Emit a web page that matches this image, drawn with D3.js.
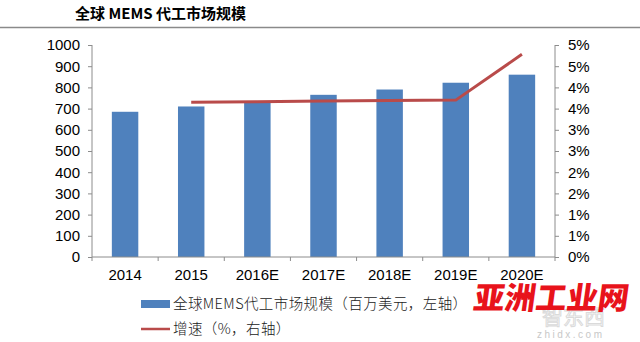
<!DOCTYPE html>
<html>
<head>
<meta charset="utf-8">
<script src="https://cdn.jsdelivr.net/npm/d3@7"></script>
<style>
  html, body { margin: 0; padding: 0; background: #fff; }
  svg { display: block; }
</style>
</head>
<body>
<svg id="chart" width="640" height="342"></svg>
<script>
const categories = ["2014", "2015", "2016E", "2017E", "2018E", "2019E", "2020E"];
const marketSize = [685, 710, 732, 765, 790, 822, 860];
const growthCats = ["2015", "2016E", "2017E", "2018E", "2019E", "2020E"];
const growthRate = [3.65, 3.66, 3.68, 3.69, 3.70, 4.78];
const leftTicks = [0, 100, 200, 300, 400, 500, 600, 700, 800, 900, 1000];
const leftTickLabels = ["0", "100", "200", "300", "400", "500", "600", "700", "800", "900", "1000"];
const rightTicks = [0, 0.5, 1, 1.5, 2, 2.5, 3, 3.5, 4, 4.5, 5];
const rightTickLabels = ["0%", "1%", "1%", "2%", "2%", "3%", "3%", "4%", "4%", "5%", "5%"];
const titleText = "全球 MEMS 代工市场规模";
const legendBar = "全球MEMS代工市场规模（百万美元，左轴）";
const legendLine = "增速（%，右轴）";

const svg = d3.select("#chart");
const L = 92, R = 555, T = 45, B = 257;
const axisColor = "#8c8c8c";
const numFont = "'Liberation Sans', Arial, sans-serif";
const cjkFont = "'Noto Sans CJK SC', 'Noto Sans', sans-serif";

// title
svg.append("text").attr("x", 75).attr("y", 19)
  .attr("font-family", cjkFont).attr("font-weight", "bold")
  .attr("font-size", 15).attr("fill", "#000").text(titleText);
svg.append("line").attr("x1", 0).attr("x2", 640).attr("y1", 27.5).attr("y2", 27.5)
  .attr("stroke", "#8a8a8a").attr("stroke-width", 1.6);

const x = d3.scaleBand().domain(categories).range([L, R]).paddingInner(0.6).paddingOuter(0.3);
const yL = d3.scaleLinear().domain([0, 1000]).range([B, T]);
const yR = d3.scaleLinear().domain([0, 5]).range([B, T]);

// bars
svg.append("g").selectAll("rect").data(categories).join("rect")
  .attr("x", d => x(d))
  .attr("width", x.bandwidth())
  .attr("y", (d, i) => yL(marketSize[i]))
  .attr("height", (d, i) => B - yL(marketSize[i]))
  .attr("fill", "#4f81bd");

// left axis
const gL = svg.append("g").attr("transform", `translate(${L},0)`)
  .call(d3.axisLeft(yL).tickValues(leftTicks).tickSize(4).tickPadding(8)
    .tickFormat((d, i) => leftTickLabels[i]));
// right axis
const gR = svg.append("g").attr("transform", `translate(${R},0)`)
  .call(d3.axisRight(yR).tickValues(rightTicks).tickSize(4).tickPadding(9)
    .tickFormat((d, i) => rightTickLabels[i]));
[gL, gR].forEach(g => {
  g.select(".domain").remove();
  g.selectAll(".tick line").attr("stroke", axisColor);
  g.selectAll(".tick text").attr("font-family", numFont).attr("font-size", 15).attr("fill", "#000");
});
svg.append("line").attr("x1", L).attr("x2", L).attr("y1", T).attr("y2", B).attr("stroke", axisColor);
svg.append("line").attr("x1", R).attr("x2", R).attr("y1", T).attr("y2", B).attr("stroke", axisColor);

// bottom axis
svg.append("line").attr("x1", L).attr("x2", R).attr("y1", B).attr("y2", B).attr("stroke", axisColor);
const step = x.step();
const bounds = d3.range(categories.length + 1).map(i => L + i * step);
svg.append("g").selectAll("line").data(bounds).join("line")
  .attr("x1", d => d).attr("x2", d => d).attr("y1", B).attr("y2", B + 4)
  .attr("stroke", axisColor);
svg.append("g").selectAll("text").data(categories).join("text")
  .attr("x", d => x(d) + x.bandwidth() / 2)
  .attr("y", 280)
  .attr("text-anchor", "middle")
  .attr("font-family", numFont).attr("font-size", 15).attr("fill", "#000")
  .text(d => d);

// line
const line = d3.line()
  .x((d, i) => x(growthCats[i]) + x.bandwidth() / 2)
  .y(d => yR(d));
svg.append("path").datum(growthRate)
  .attr("d", line).attr("fill", "none")
  .attr("stroke", "#b94b4a").attr("stroke-width", 3)
  .attr("stroke-linejoin", "round");

// legend
svg.append("rect").attr("x", 141).attr("y", 300).attr("width", 29).attr("height", 8).attr("fill", "#4f81bd");
svg.append("text").attr("x", 173).attr("y", 309)
  .attr("font-family", cjkFont).attr("font-size", 14.5).attr("fill", "#222")
  .attr("font-weight", 300).attr("letter-spacing", 0.4).text(legendBar);
svg.append("line").attr("x1", 141).attr("x2", 170).attr("y1", 329).attr("y2", 329)
  .attr("stroke", "#b94b4a").attr("stroke-width", 2.5);
svg.append("text").attr("x", 173).attr("y", 334)
  .attr("font-family", cjkFont).attr("font-size", 14.5).attr("fill", "#222")
  .attr("font-weight", 300).attr("letter-spacing", 0.4).text(legendLine);

// watermarks
svg.append("text").attr("x", 542).attr("y", 324)
  .attr("font-family", cjkFont).attr("font-size", 21).attr("fill", "none")
  .attr("stroke", "#dadada").attr("stroke-width", 1).text("智东西");
svg.append("text").attr("x", 537).attr("y", 338)
  .attr("font-family", numFont).attr("font-size", 10).attr("fill", "#c8c8c8")
  .attr("letter-spacing", 2.5).text("zhidx.com");
svg.append("text").attr("x", 476).attr("y", 309)
  .attr("font-family", cjkFont).attr("font-weight", "900")
  .attr("font-size", 31).attr("fill", "#e8131b")
  .attr("transform", "skewX(-8) translate(40,0)")
  .text("亚洲工业网");
</script>
</body>
</html>
